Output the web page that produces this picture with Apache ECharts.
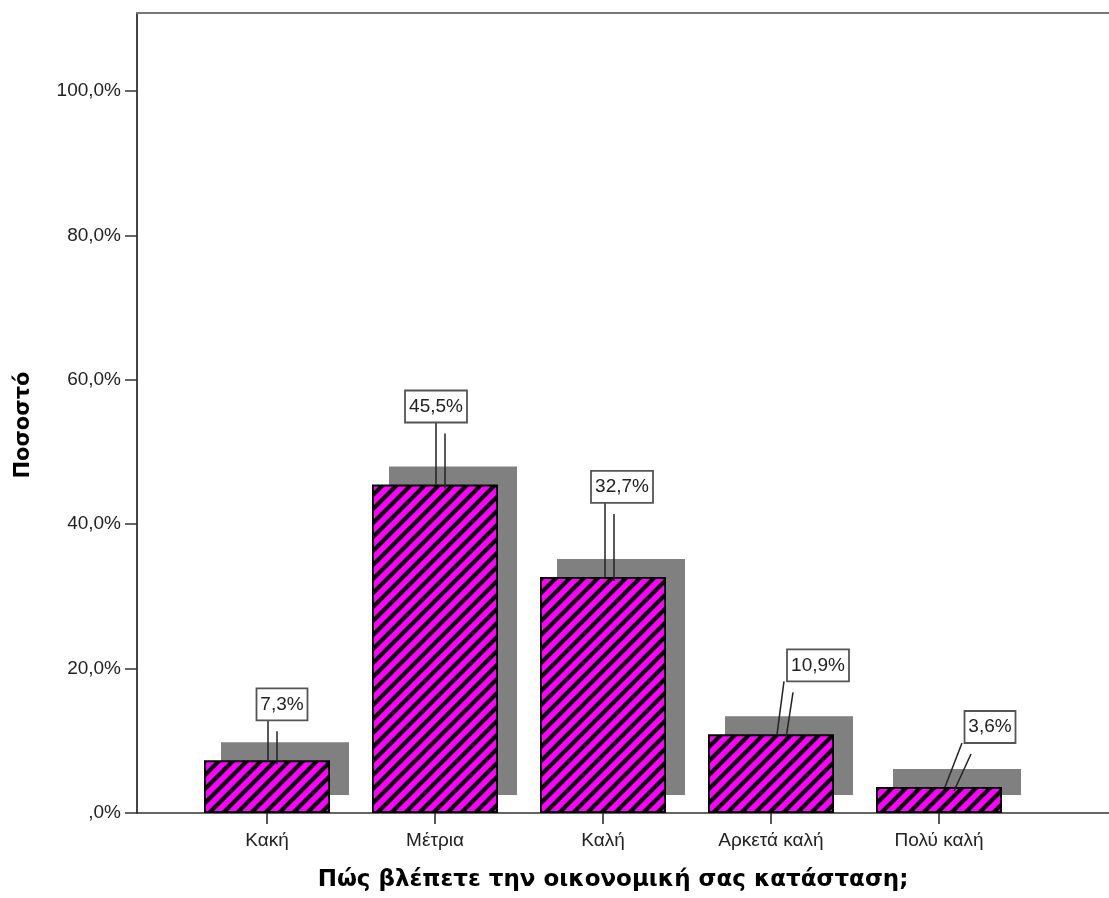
<!DOCTYPE html>
<html>
<head>
<meta charset="utf-8">
<script src="https://cdn.jsdelivr.net/npm/echarts@6/dist/echarts.min.js"></script>
<style>
  html, body { margin: 0; padding: 0; background: #fff; }
  #chart { width: 1109px; height: 898px; }
</style>
</head>
<body>
<div id="chart"></div>
<script>
// Categories and percentages
const categories = ['Κακή', 'Μέτρια', 'Καλή', 'Αρκετά καλή', 'Πολύ καλή'];
const percents = [7.3, 45.5, 32.7, 10.9, 3.6];
const yTicks = [0, 20, 40, 60, 80, 100];
const xTitle = 'Πώς βλέπετε την οικονομική σας κατάσταση;';
const yTitle = 'Ποσοστό';

// Leader-line placement for each value box, in pixels from the bar-top centre:
// [line top dx, line top dy, line foot dx, box centre dx from line top]
const calloutLayout = [
  [1, -40, 1, 14],
  [1, -62, 1, 0],
  [2, -74, 2, 17],
  [13, -53, 6, 34],
  [23, -44, 6, 28]
];

const Y_MAX = 110.8;
const LABEL_FONT = '"Liberation Sans", Arial, sans-serif';
const TITLE_FONT = '"DejaVu Sans", Verdana, sans-serif';
const BOX_FONT = '19px ' + LABEL_FONT;

function fmtPct(v) {
  return v === 0 ? ',0%' : v.toFixed(1).replace('.', ',') + '%';
}

const measureCtx = document.createElement('canvas').getContext('2d');
function textWidth(txt, font) {
  measureCtx.font = font;
  return measureCtx.measureText(txt).width;
}

// Diagonal black hatching on magenta
function makeHatch() {
  const s = 14;
  const c = document.createElement('canvas');
  c.width = s; c.height = s;
  const g = c.getContext('2d');
  g.fillStyle = '#ff00ff';
  g.fillRect(0, 0, s, s);
  g.strokeStyle = '#000';
  g.lineWidth = 4.2;
  g.beginPath();
  g.moveTo(-s, s); g.lineTo(s, -s);
  g.moveTo(0, s); g.lineTo(s, 0);
  g.moveTo(0, 2 * s); g.lineTo(2 * s, 0);
  g.stroke();
  return c;
}

const chart = echarts.init(document.getElementById('chart'), null, { renderer: 'canvas' });

const pairs = percents.map((v, i) => [i, v]);

const option = {
  backgroundColor: '#ffffff',
  animation: false,
  grid: [
    { left: 183, right: 86, top: 13, bottom: 85 },
    { left: 137, right: -20, top: 13, bottom: 85 }
  ],
  xAxis: [
    {
      type: 'category', gridIndex: 0, data: categories,
      axisLine: { show: false },
      axisTick: { show: true, alignWithLabel: true, length: 11, lineStyle: { color: '#222', width: 1.5 } },
      axisLabel: { color: '#222', fontSize: 19, fontFamily: LABEL_FONT, margin: 18 },
      splitLine: { show: false }
    },
    {
      type: 'value', gridIndex: 1, min: 0, max: 1, position: 'bottom',
      axisLine: { show: true, onZero: false, lineStyle: { color: '#333', width: 1.5 } },
      axisTick: { show: false }, axisLabel: { show: false }, splitLine: { show: false }
    },
    {
      type: 'value', gridIndex: 1, min: 0, max: 1, position: 'top',
      axisLine: { show: true, onZero: false, lineStyle: { color: '#777', width: 2 } },
      axisTick: { show: false }, axisLabel: { show: false }, splitLine: { show: false }
    }
  ],
  yAxis: [
    { type: 'value', gridIndex: 0, min: 0, max: Y_MAX, show: false },
    {
      type: 'value', gridIndex: 1, min: 0, max: Y_MAX,
      axisLine: { show: true, lineStyle: { color: '#444', width: 2 } },
      axisTick: { show: true, length: 12, customValues: yTicks, lineStyle: { color: '#333', width: 1.5 } },
      axisLabel: {
        customValues: yTicks, formatter: v => fmtPct(v),
        color: '#222', fontSize: 19, fontFamily: LABEL_FONT, margin: 16
      },
      splitLine: { show: false }
    }
  ],
  graphic: [
    {
      type: 'text', x: 613, y: 880,
      style: { text: xTitle, font: 'bold 23px ' + TITLE_FONT, fill: '#000', align: 'center', verticalAlign: 'middle' }
    },
    {
      type: 'text', x: 24, y: 425, rotation: Math.PI / 2,
      style: { text: yTitle, font: 'bold 21px ' + TITLE_FONT, fill: '#000', align: 'center', verticalAlign: 'middle' }
    }
  ],
  series: [
    {
      // offset grey shadow behind each bar
      type: 'custom', xAxisIndex: 0, yAxisIndex: 0, z: 1, silent: true,
      data: pairs,
      renderItem: function (params, api) {
        const top = api.coord([api.value(0), api.value(1)]);
        const base = api.coord([api.value(0), 0]);
        return {
          type: 'rect',
          shape: { x: top[0] - 64 + 18, y: top[1] - 18, width: 128, height: base[1] - top[1] },
          style: { fill: '#808080' }
        };
      }
    },
    {
      type: 'bar', xAxisIndex: 0, yAxisIndex: 0, z: 2,
      data: percents, barWidth: 126,
      itemStyle: { color: { image: makeHatch(), repeat: 'repeat' }, borderColor: '#000', borderWidth: 2 }
    },
    {
      // boxed value labels with double leader lines
      type: 'custom', xAxisIndex: 0, yAxisIndex: 0, z: 3, silent: true,
      data: pairs,
      renderItem: function (params, api) {
        const i = params.dataIndex;
        const v = api.value(1);
        const p = api.coord([api.value(0), v]);
        const L = calloutLayout[i];
        const tx = p[0] + L[0], ty = p[1] + L[1];
        const fx = p[0] + L[2], fy = p[1];
        const txt = fmtPct(v);
        const boxW = Math.round(textWidth(txt, BOX_FONT) + 8);
        const boxH = 32;
        const bcx = tx + L[3];
        return {
          type: 'group',
          children: [
            { type: 'line', shape: { x1: tx, y1: ty, x2: fx, y2: fy }, style: { stroke: '#222', lineWidth: 1.5 } },
            { type: 'line', shape: { x1: tx + 9, y1: ty + 11, x2: fx + 9, y2: fy + 4 }, style: { stroke: '#222', lineWidth: 1.5 } },
            {
              type: 'rect',
              shape: { x: bcx - boxW / 2, y: ty - boxH, width: boxW, height: boxH },
              style: { fill: '#fff', stroke: '#555', lineWidth: 1.8 }
            },
            {
              type: 'text', x: bcx, y: ty - boxH / 2,
              style: { text: txt, font: BOX_FONT, fill: '#222', align: 'center', verticalAlign: 'middle' }
            }
          ]
        };
      }
    }
  ]
};

chart.setOption(option);
</script>
</body>
</html>
